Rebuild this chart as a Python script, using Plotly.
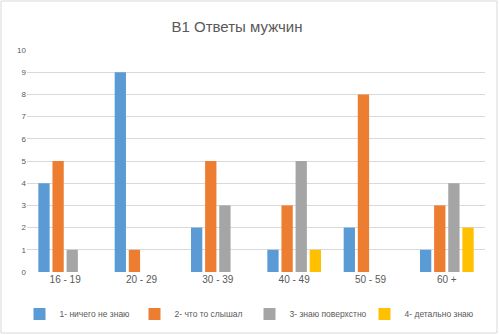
import plotly.graph_objects as go

categories = ["16 - 19", "20 - 29", "30 - 39", "40 - 49", "50 - 59", "60 +"]
series_names = ["1- ничего не знаю", "2- что то слышал", "3- знаю поверхстно", "4- детально знаю"]
s1 = [4, 9, 2, 1, 2, 1]
s2 = [5, 1, 5, 3, 8, 3]
s3 = [1, 0, 3, 5, 0, 4]
s4 = [0, 0, 0, 1, 0, 2]
colors = ["#5B9BD5", "#ED7D31", "#A5A5A5", "#FFC000"]
y_ticks = list(range(0, 11))

fig = go.Figure()
for name, vals, col in zip(series_names, [s1, s2, s3, s4], colors):
    fig.add_trace(go.Bar(x=categories, y=vals, name=name, marker_color=col,
                         marker_line_width=0))

W, H = 499, 335
l, r, t, b = 27, 14, 50, 63
pw, ph = W - l - r, H - t - b

fig.update_layout(
    width=W, height=H,
    margin=dict(l=l, r=r, t=t, b=b),
    paper_bgcolor="white", plot_bgcolor="white",
    barmode="group", bargap=0.26, bargroupgap=0.2,
    font=dict(family="Liberation Sans", color="#595959", size=9),
    title=dict(text="В1 Ответы мужчин", x=237 / W, xref="container", xanchor="center",
               y=1 - 27 / H, yref="container", yanchor="middle",
               font=dict(size=15, color="#595959", family="Liberation Sans")),
    legend=dict(orientation="h", x=0.5, xanchor="center", xref="container",
                y=1 - 314 / H, yanchor="middle", yref="container",
                font=dict(size=8.5, color="#595959"), itemwidth=30, traceorder="normal",
                entrywidth=70, entrywidthmode="pixels"),
    showlegend=True,
)
fig.update_xaxes(showgrid=False, showline=False, ticks="", tickfont=dict(size=10, color="#595959"),
                 automargin=False)
fig.update_yaxes(range=[0, 10], tickvals=y_ticks, showgrid=True, gridcolor="#D9D9D9", gridwidth=1,
                 zeroline=False, showline=False, ticks="", tickfont=dict(size=8, color="#595959"),
                 automargin=False)

fig.add_shape(type="rect", xref="paper", yref="paper",
              x0=(1 - l) / pw, x1=(497 - l) / pw, y0=(272 - 333) / ph, y1=(272 - 1) / ph,
              line=dict(color="#D9D9D9", width=1), fillcolor="rgba(0,0,0,0)", layer="below")

fig.write_html("out.html")
